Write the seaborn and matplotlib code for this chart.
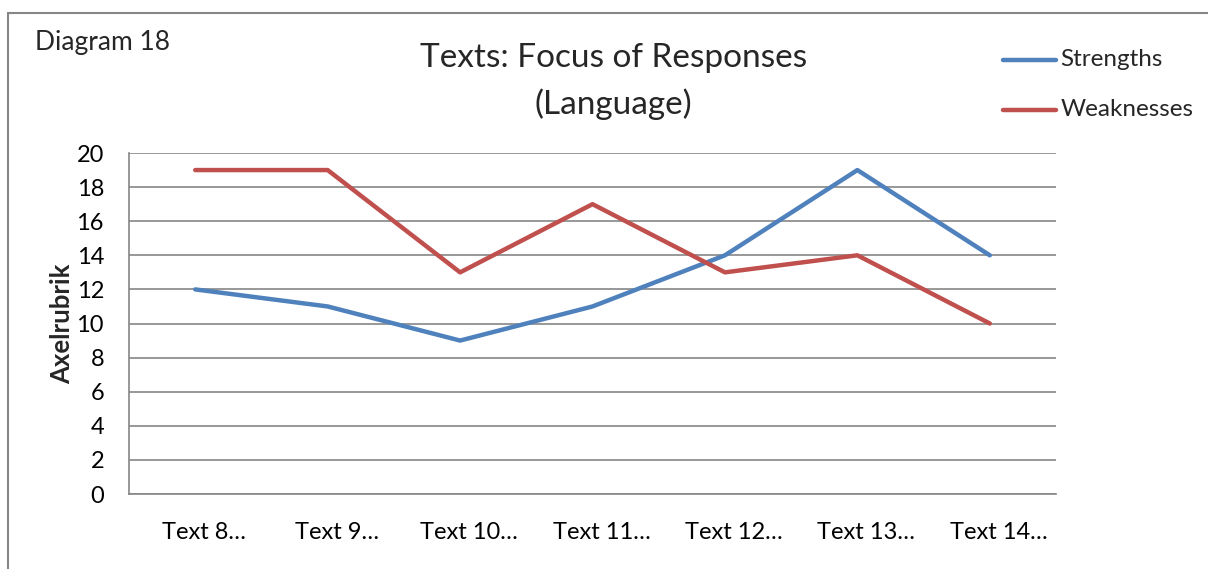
import pandas as pd
import seaborn as sns
import matplotlib.pyplot as plt
import matplotlib.transforms as mtransforms
from matplotlib.patches import Rectangle

# data
texts = ['Text 8…', 'Text 9…', 'Text 10…', 'Text 11…', 'Text 12…', 'Text 13…', 'Text 14…']
strengths = [12, 11, 9, 11, 14, 19, 14]
weaknesses = [19, 19, 13, 17, 13, 14, 10]
y_ticks = [0, 2, 4, 6, 8, 10, 12, 14, 16, 18, 20]

sns.set_style('white')
plt.rcParams['font.family'] = ['Lato', 'DejaVu Sans']

df = pd.DataFrame({'text': texts * 2,
                   'value': strengths + weaknesses,
                   'series': ['Strengths'] * len(texts) + ['Weaknesses'] * len(texts)})

fig = plt.figure(figsize=(12.08, 5.69), dpi=100)
ax = fig.add_axes([0.1068, 0.1318, 0.7674, 0.5993])

sns.lineplot(data=df, x='text', y='value', hue='series',
             palette={'Strengths': '#4F81BD', 'Weaknesses': '#C0504D'},
             linewidth=3.2, ax=ax, legend=False, sort=False)

ax.set_xlim(-0.5, len(texts) - 0.5)
ax.set_ylim(0, 20)
ax.set_yticks(y_ticks)
ax.yaxis.grid(True, color='#868686', linewidth=1.2)
ax.set_axisbelow(True)
ax.tick_params(axis='both', length=0, labelsize=17, colors='black')
ax.tick_params(axis='x', pad=20)
ax.tick_params(axis='y', pad=18)
for s in ['top', 'right']:
    ax.spines[s].set_visible(False)
for s in ['left', 'bottom']:
    ax.spines[s].set_color('#868686')
    ax.spines[s].set_linewidth(1.2)
ax.set_xlabel('')
ax.set_ylabel('Axelrubrik', fontsize=18.5, fontweight='bold', labelpad=2)

# category labels sit a little right of the points, like in the original
shift = mtransforms.ScaledTranslation(9 / 100, 0, fig.dpi_scale_trans)
for lbl in ax.get_xticklabels():
    lbl.set_transform(lbl.get_transform() + shift)

# title, diagram number and legend
fig.text(0.508, 0.898, 'Texts: Focus of Responses', ha='center', va='center', fontsize=24)
fig.text(0.508, 0.817, '(Language)', ha='center', va='center', fontsize=24)
fig.text(0.029, 0.926, 'Diagram 18', fontsize=19, va='center')

legend_items = [('Strengths', '#4F81BD', 0.895), ('Weaknesses', '#C0504D', 0.807)]
for name, col, ypos in legend_items:
    fig.add_artist(plt.Line2D([0.83, 0.874], [ypos, ypos], color=col,
                              linewidth=3.2, solid_capstyle='round'))
    fig.text(0.878, ypos, name, fontsize=17.5, va='center')

# outer chart frame
fig.add_artist(Rectangle((0.0066, -0.1), 1.1, 1.077, transform=fig.transFigure,
                         fill=False, edgecolor='#868686', linewidth=1.5))

plt.savefig('out.png', dpi=100)
